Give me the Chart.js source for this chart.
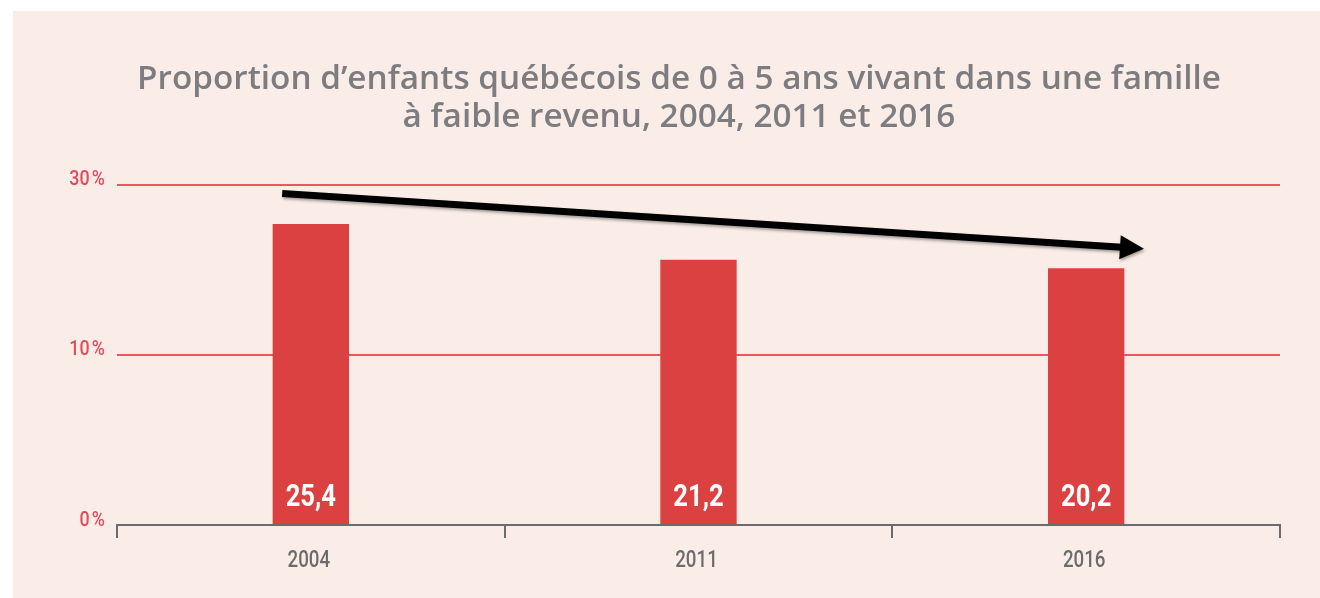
<!DOCTYPE html>
<html lang="fr">
<head>
<meta charset="utf-8">
<title>Proportion d'enfants québécois de 0 à 5 ans vivant dans une famille à faible revenu</title>
<script src="https://cdn.jsdelivr.net/npm/chart.js@4.4.1/dist/chart.umd.min.js"></script>
<style>
  html, body { margin: 0; padding: 0; background: #ffffff; }
  #panel {
    position: absolute; left: 13px; top: 11px;
    width: 1307px; height: 587px;
    background: #faede8;
  }
</style>
</head>
<body>
<div id="panel"><canvas id="chart" width="1307" height="587"></canvas></div>
<script>
const years = ["2004", "2011", "2016"];
const proportions = [25.4, 21.2, 20.2];
const yTicks = [0, 10, 30];
// the source axis is broken: 0-10 takes the same height as 10-30
const yBreaks = [0, 10, 30];
// trend arrow, in (category index, value)
const arrowFrom = [-0.074, 29.0];
const arrowTo = [2.149, 22.5];

const RED = "#db4140";
const GRID_RED = "#e8585c";
const AXIS_GREY = "#6b6b6b";

function toDecimal(v) {
  const n = yBreaks.length - 1;
  let i = 0;
  while (i < n - 1 && v > yBreaks[i + 1]) i++;
  const t = (v - yBreaks[i]) / (yBreaks[i + 1] - yBreaks[i]);
  return (i + t) / n;
}

function fromDecimal(d) {
  const n = yBreaks.length - 1;
  let i = Math.min(n - 1, Math.max(0, Math.floor(d * n)));
  const t = d * n - i;
  return yBreaks[i] + t * (yBreaks[i + 1] - yBreaks[i]);
}

class PiecewiseScale extends Chart.LinearScale {
  getPixelForValue(value) {
    return this.getPixelForDecimal(toDecimal(value));
  }
  getValueForPixel(pixel) {
    return fromDecimal(this.getDecimalForPixel(pixel));
  }
}
PiecewiseScale.id = "piecewise";
PiecewiseScale.defaults = Chart.LinearScale.defaults;
Chart.register(PiecewiseScale);

// the source uses a very narrow type, so squeeze Roboto sideways
function narrowText(ctx, text, x, y, align, sx) {
  ctx.save();
  ctx.translate(x, y);
  ctx.scale(sx, 1);
  ctx.textAlign = align;
  ctx.textBaseline = "alphabetic";
  ctx.fillText(text, 0, 0);
  ctx.restore();
}

const axisLabels = {
  id: "axisLabels",
  afterDraw(chart) {
    const ctx = chart.ctx;
    const x = chart.scales.x, y = chart.scales.y;
    ctx.save();
    ctx.fillStyle = "#e34b5a";
    ctx.font = "500 21px Roboto, sans-serif";
    yTicks.forEach(v => {
      narrowText(ctx, v + "\u202f%", chart.chartArea.left - 12, y.getPixelForValue(v) + 0.5, "right", 0.85);
    });
    ctx.fillStyle = "#6c6c6c";
    ctx.font = "500 24px Roboto, sans-serif";
    years.forEach((label, i) => {
      narrowText(ctx, label, x.getPixelForValue(i) - 2, x.top + 42, "center", 0.78);
    });
    ctx.restore();
  }
};

// value written in white at the foot of each bar
const barValues = {
  id: "barValues",
  afterDatasetsDraw(chart) {
    const ctx = chart.ctx;
    const meta = chart.getDatasetMeta(0);
    ctx.save();
    ctx.fillStyle = "#ffffff";
    ctx.font = "bold 32px Roboto, sans-serif";
    meta.data.forEach((bar, i) => {
      narrowText(ctx, String(proportions[i]).replace(".", ","), bar.x, bar.base - 18, "center", 0.8);
    });
    ctx.restore();
  }
};

const trendArrow = {
  id: "trendArrow",
  afterDraw(chart) {
    const x = chart.scales.x, y = chart.scales.y;
    const x0 = x.getPixelForValue(arrowFrom[0]), y0 = y.getPixelForValue(arrowFrom[1]);
    const x1 = x.getPixelForValue(arrowTo[0]), y1 = y.getPixelForValue(arrowTo[1]);
    const ang = Math.atan2(y1 - y0, x1 - x0);
    const headLen = 24, headHalf = 12;
    const bx = x1 - headLen * Math.cos(ang), by = y1 - headLen * Math.sin(ang);
    const ctx = chart.ctx;
    ctx.save();
    ctx.shadowColor = "rgba(0,0,0,0.35)";
    ctx.shadowBlur = 3;
    ctx.shadowOffsetX = 1;
    ctx.shadowOffsetY = 2;
    ctx.strokeStyle = "#000000";
    ctx.fillStyle = "#000000";
    ctx.lineWidth = 7;
    ctx.beginPath();
    ctx.moveTo(x0, y0);
    ctx.lineTo(bx + 2 * Math.cos(ang), by + 2 * Math.sin(ang));
    ctx.stroke();
    ctx.beginPath();
    ctx.moveTo(x1, y1);
    ctx.lineTo(bx + headHalf * Math.sin(ang), by - headHalf * Math.cos(ang));
    ctx.lineTo(bx - headHalf * Math.sin(ang), by + headHalf * Math.cos(ang));
    ctx.closePath();
    ctx.fill();
    ctx.restore();
  }
};

new Chart(document.getElementById("chart"), {
  type: "bar",
  data: {
    labels: years,
    datasets: [{
      data: proportions,
      backgroundColor: RED,
      borderWidth: 0,
      barPercentage: 0.197,
      categoryPercentage: 1
    }]
  },
  options: {
    responsive: false,
    animation: false,
    layout: { padding: { left: 65, right: 40, top: 0, bottom: 0 } },
    plugins: {
      legend: { display: false },
      tooltip: { enabled: false },
      title: {
        display: true,
        text: ["Proportion d\u2019enfants québécois de 0 à 5 ans vivant dans une famille",
               "à faible revenu, 2004, 2011 et 2016"],
        color: "#7d7d81",
        font: { family: "'Open Sans', Lato, sans-serif", size: 33.3, weight: "600", lineHeight: 1.14 },
        padding: { top: 50, bottom: 48 }
      }
    },
    scales: {
      x: {
        afterFit: (s) => { s.height = 73; },
        grid: {
          offset: true,
          drawOnChartArea: false,
          drawTicks: true,
          tickLength: 13,
          color: AXIS_GREY,
          lineWidth: 2
        },
        border: { display: true, color: AXIS_GREY, width: 2 },
        ticks: { display: false }
      },
      y: {
        type: "piecewise",
        min: 0,
        max: 30,
        afterBuildTicks: (s) => { s.ticks = yTicks.map(v => ({ value: v })); },
        afterFit: (s) => { s.width = 39; },
        grid: {
          drawTicks: false,
          lineWidth: 2,
          color: (c) => c.tick && c.tick.value === 0 ? "rgba(0,0,0,0)" : GRID_RED
        },
        border: { display: false },
        ticks: { display: false }
      }
    }
  },
  plugins: [barValues, trendArrow, axisLabels]
});
</script>
</body>
</html>
